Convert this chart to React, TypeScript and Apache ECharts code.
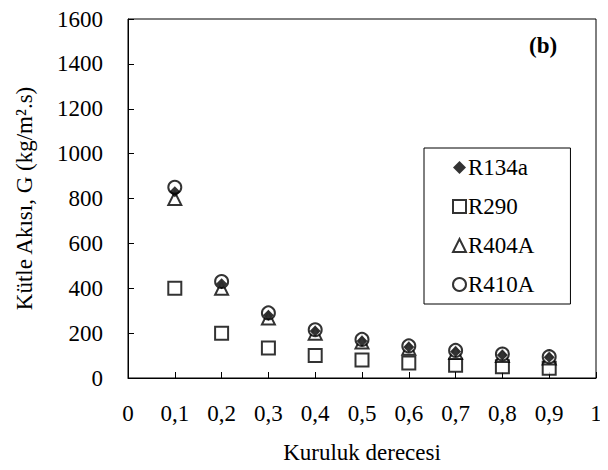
import React, { useEffect, useRef } from "react";
import * as echarts from "echarts";

const xValues = [0.1, 0.2, 0.3, 0.4, 0.5, 0.6, 0.7, 0.8, 0.9];
const r134a = [830, 420, 280, 210, 165, 138, 118, 103, 92];
const r290 = [400, 200, 134, 100, 80, 67, 57, 50, 44];
const r404a = [800, 400, 267, 200, 160, 133, 114, 100, 89];
const r410a = [850, 430, 290, 215, 172, 143, 123, 107, 95];

const FONT = "Liberation Serif";
const FS = 23;

export default function App() {
  const ref = useRef<HTMLDivElement>(null);
  useEffect(() => {
    const chart = echarts.init(ref.current!, null, { renderer: "svg" });
    const pts = (ys: number[]) => xValues.map((x, i) => [x, ys[i]]);
    const hollow = { color: "#fff", borderColor: "#000", borderWidth: 2 };
    chart.setOption({
      animation: false,
      backgroundColor: "#fff",
      textStyle: { fontFamily: FONT },
      title: {
        text: "(b)",
        left: 524,
        top: 29,
        textStyle: { fontFamily: FONT, fontWeight: "bold", fontSize: FS, color: "#000" },
      },
      grid: {
        left: 128,
        right: 12,
        top: 19,
        bottom: 92,
        outerBoundsMode: "none",
        containLabel: false,
        show: true,
        borderColor: "#000",
        borderWidth: 1,
      },
      legend: {
        orient: "vertical",
        left: 424,
        top: 148,
        padding: [8, 36, 8, 28],
        itemGap: 16,
        itemWidth: 13,
        itemHeight: 13,
        borderColor: "#000",
        borderWidth: 1,
        textStyle: { fontFamily: FONT, fontSize: FS, color: "#000", padding: [0, 0, 0, -3] },
        data: ["R134a", "R290", "R404A", "R410A"],
      },
      xAxis: {
        type: "value",
        min: 0,
        max: 1,
        interval: 0.1,
        name: "Kuruluk derecesi",
        nameLocation: "middle",
        nameGap: 63,
        nameTextStyle: { fontFamily: FONT, fontSize: FS, color: "#000" },
        axisLine: { lineStyle: { color: "#000", width: 1 } },
        axisTick: { inside: true, length: 6, lineStyle: { color: "#000" } },
        splitLine: { show: false },
        axisLabel: {
          fontFamily: FONT,
          fontSize: FS,
          color: "#000",
          margin: 24,
          formatter: (v: number) => String(Math.round(v * 10) / 10).replace(".", ","),
        },
      },
      yAxis: {
        type: "value",
        min: 0,
        max: 1600,
        interval: 200,
        name: "Kütle Akısı, G (kg/m².s)",
        nameLocation: "middle",
        nameGap: 92,
        nameTextStyle: { fontFamily: FONT, fontSize: FS, color: "#000" },
        axisLine: { show: true, lineStyle: { color: "#000", width: 1 } },
        axisTick: { show: true, inside: true, length: 6, lineStyle: { color: "#000" } },
        splitLine: { show: false },
        axisLabel: {
          fontFamily: FONT,
          fontSize: FS,
          color: "#000",
          margin: 25,
          formatter: (v: number) => String(v),
        },
      },
      series: [
        {
          name: "R290",
          type: "scatter",
          symbol: "rect",
          symbolSize: 13,
          itemStyle: hollow,
          data: pts(r290),
          z: 2,
        },
        {
          name: "R404A",
          type: "scatter",
          symbol: "triangle",
          symbolSize: 13,
          itemStyle: hollow,
          data: pts(r404a),
          z: 2,
        },
        {
          name: "R410A",
          type: "scatter",
          symbol: "circle",
          symbolSize: 13,
          itemStyle: hollow,
          data: pts(r410a),
          z: 3,
        },
        {
          name: "R134a",
          type: "scatter",
          symbol: "diamond",
          symbolSize: 11,
          itemStyle: { color: "#000" },
          data: pts(r134a),
          z: 4,
        },
      ],
    });
    return () => chart.dispose();
  }, []);
  return <div ref={ref} style={{ width: 608, height: 470, margin: -8 }} />;
}
